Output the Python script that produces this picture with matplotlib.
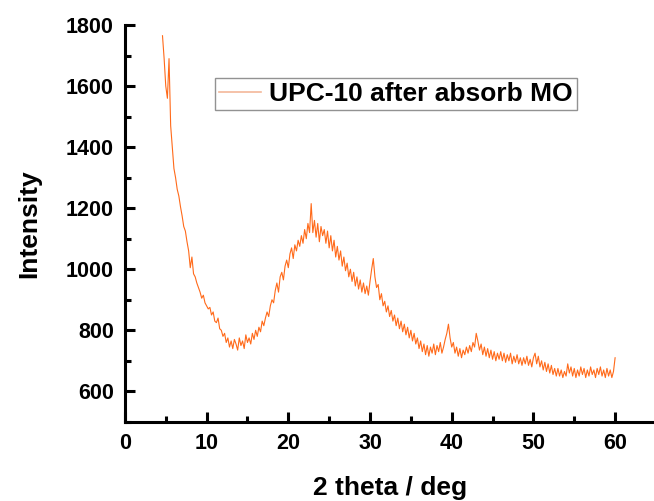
import numpy as np
import matplotlib
matplotlib.use("Agg")
import matplotlib.pyplot as plt
from matplotlib.ticker import MultipleLocator

plt.rcParams['font.family'] = ['Liberation Sans', 'DejaVu Sans']
plt.rcParams['font.weight'] = 'bold'

step = 0.2
# intensity readings, segment by segment (start angle, values)
start_a = 4.6
int_a = [1765, 1690, 1600, 1560, 1690, 1470, 1400, 1330, 1300, 1262,
         1240, 1205, 1175, 1140, 1125, 1090, 1060, 1005, 1040, 985,
         975, 955, 940, 925, 905, 915, 890]
start_b = 10.0
int_b = [880, 870, 875, 850, 860, 830, 825, 840, 805, 800,
         780, 790, 760, 775, 745, 765, 740, 770, 755, 735,
         775, 750, 765, 740, 785, 760, 775, 755, 790, 770,
         800, 780, 810, 795, 830, 815, 840, 860, 845, 880,
         900, 890, 930, 955, 925, 975, 990, 965, 1010, 1030]
start_c = 20.0
int_c = [1005, 1050, 1070, 1035, 1080, 1060, 1095, 1075, 1110, 1085,
         1130, 1100, 1150, 1120, 1215, 1120, 1160, 1105, 1150, 1090,
         1140, 1110, 1130, 1085, 1125, 1070, 1110, 1060, 1095, 1040,
         1075, 1030, 1060, 1010, 1040, 995, 1020, 975, 1000, 960,
         990, 945, 975, 935, 965, 925, 955, 920, 945, 915]
start_d = 30.0
int_d = [960, 1000, 1035, 975, 940, 950, 900, 920, 880, 895,
         860, 880, 845, 865, 830, 850, 815, 840, 805, 830,
         795, 820, 785, 810, 775, 800, 765, 790, 755, 775,
         740, 765, 730, 755, 720, 750, 715, 745, 725, 755,
         720, 750, 730, 760, 725, 745, 770, 790, 820, 775]
start_e = 40.0
int_e = [745, 760, 725, 745, 715, 740, 710, 735, 720, 745,
         725, 750, 730, 760, 745, 790, 765, 735, 755, 720,
         745, 715, 740, 710, 735, 705, 730, 700, 725, 705,
         730, 700, 725, 695, 720, 700, 725, 690, 715, 695,
         720, 690, 710, 685, 710, 690, 715, 685, 705, 680]
start_f = 50.0
int_f = [710, 725, 690, 715, 680, 700, 670, 695, 665, 690,
         660, 685, 655, 675, 650, 675, 650, 670, 645, 665,
         650, 690, 660, 680, 650, 675, 645, 670, 650, 680,
         655, 675, 645, 670, 650, 680, 655, 670, 645, 675,
         655, 680, 650, 670, 645, 675, 650, 670, 645, 665, 710]

segments = [(start_a, int_a), (start_b, int_b), (start_c, int_c),
            (start_d, int_d), (start_e, int_e), (start_f, int_f)]
two_theta = np.concatenate([s + step * np.arange(len(v)) for s, v in segments])
intensity = np.concatenate([np.array(v, float) for s, v in segments])

xticks = [0, 10, 20, 30, 40, 50, 60]
yticks = [600, 800, 1000, 1200, 1400, 1600, 1800]
series_label = "UPC-10 after absorb MO"

fig = plt.figure(figsize=(6.54, 5.01), dpi=100)
ax = fig.add_axes([0.191, 0.158, 0.812, 0.792])
line, = ax.plot(two_theta, intensity, color='#FF6A1A', lw=0.8, label=series_label)

ax.set_xlim(0, 65)
ax.set_ylim(500, 1800)
ax.set_xticks(xticks)
ax.set_yticks(yticks)
ax.xaxis.set_minor_locator(MultipleLocator(5))
ax.yaxis.set_minor_locator(MultipleLocator(100))
ax.spines['top'].set_visible(False)
ax.spines['right'].set_visible(False)
for s in ['left', 'bottom']:
    ax.spines[s].set_linewidth(2.2)
ax.tick_params(which='major', direction='in', length=7.5, width=2.2,
               labelsize=15.5, pad=8)
ax.tick_params(which='minor', direction='in', length=4.5, width=2.2)
for lab in ax.get_xticklabels() + ax.get_yticklabels():
    lab.set_fontweight('bold')

ax.set_xlabel("2 theta / deg", fontsize=19, fontweight='bold', labelpad=16)
ax.set_ylabel("Intensity", fontsize=19, fontweight='bold', labelpad=18)

leg = ax.legend(loc='upper left', bbox_to_anchor=(0.17, 0.867), borderaxespad=0,
                fontsize=19, frameon=True, fancybox=False, handlelength=1.6,
                handletextpad=0.3, borderpad=0.15)
leg.get_frame().set_edgecolor('#777777')
leg.get_frame().set_linewidth(1.0)
leg.get_lines()[0].set_color('#F3B89A')
leg.get_lines()[0].set_linewidth(1.2)
for t in leg.get_texts():
    t.set_fontweight('bold')

fig.savefig("out.png", dpi=100)
